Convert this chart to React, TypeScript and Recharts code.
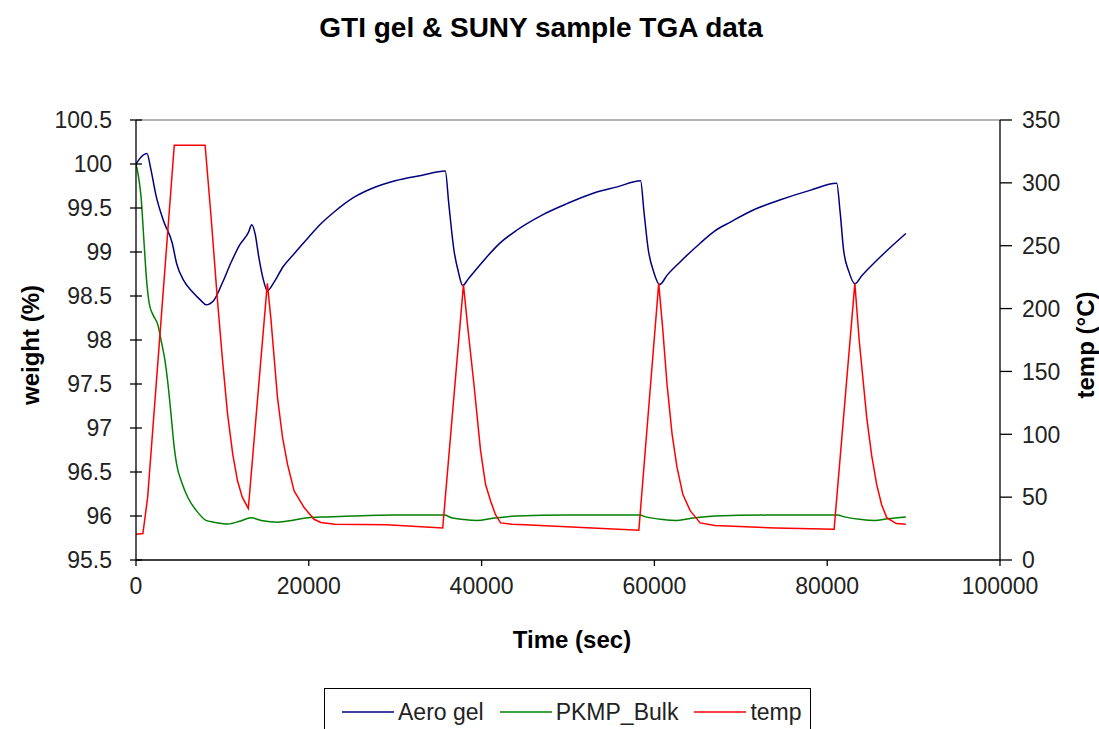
import React from 'react';
import { LineChart, Line, XAxis, YAxis, ReferenceLine } from 'recharts';

const FONT = '"Liberation Sans", Arial, Helvetica, sans-serif';

const titleText = 'GTI gel & SUNY sample TGA data';
const xTitle = 'Time (sec)';
const leftTitle = 'weight (%)';
const rightTitle = 'temp (°C)';

const seriesNames = ['Aero gel', 'PKMP_Bulk', 'temp'];
const seriesColors = ['#000080', '#008000', '#FF0000'];

const weightTicks = [95.5, 96, 96.5, 97, 97.5, 98, 98.5, 99, 99.5, 100, 100.5];
const tempTicks = [0, 50, 100, 150, 200, 250, 300, 350];
const timeTicks = [0, 20000, 40000, 60000, 80000, 100000];

const aeroTime = [
  0, 600, 1270, 1700, 2300, 3200, 4200, 4700, 5500, 6500, 7500, 8100, 9000, 10000, 11000, 12000, 13000, 13400,
  13800, 14200, 14700, 15200, 16000, 17000, 18300, 20000, 21400, 23000, 25200, 27500, 30000, 33000, 35800,
  36200, 36800, 37300, 37800, 38500, 40300, 42000, 44100, 47000, 49900, 53000, 55700, 58400, 58800, 59300,
  59900, 60600, 61500, 63000, 65300, 67000, 68800, 71500, 74500, 78000, 81100, 81500, 81900, 82500, 83200,
  84000, 86100, 89100,
];
const aeroWeight = [
  100.0, 100.08, 100.12, 99.95, 99.65, 99.35, 99.1, 98.87, 98.68, 98.55, 98.45, 98.4, 98.45, 98.65, 98.88, 99.08,
  99.22, 99.31, 99.2, 98.95, 98.7, 98.56, 98.66, 98.83, 98.98, 99.17, 99.32, 99.46, 99.62, 99.73, 99.81, 99.87,
  99.92, 99.55, 99.02, 98.78, 98.62, 98.7, 98.91, 99.09, 99.25, 99.42, 99.55, 99.67, 99.74, 99.81, 99.45, 99.02,
  98.78, 98.63, 98.74, 98.89, 99.1, 99.24, 99.34, 99.48, 99.59, 99.7, 99.78, 99.45, 99.02, 98.78, 98.64, 98.73,
  98.94, 99.21,
];

const bulkTime = [
  0, 300, 580, 960, 1250, 1540, 2000, 2500, 3000, 3300, 3700, 4050, 4400, 4700, 5300, 6000, 7000, 8100, 9000,
  10600, 12000, 13300, 14500, 16400, 18000, 19900, 22000, 25000, 30000, 35700, 36500, 38000, 39500, 41000,
  44000, 50000, 58300, 59000, 61000, 62500, 64000, 67000, 73000, 81200, 82000, 84000, 85500, 87000, 89100,
];
const bulkWeight = [
  100.0, 99.85, 99.63, 99.06, 98.65, 98.41, 98.28, 98.18, 97.95, 97.8, 97.5, 97.16, 96.8, 96.59, 96.38, 96.21,
  96.06, 95.95, 95.93, 95.91, 95.94, 95.98, 95.95, 95.93, 95.95, 95.98, 95.99, 96.0, 96.01, 96.01, 95.98, 95.96,
  95.95, 95.97, 96.0, 96.01, 96.01, 95.99, 95.96, 95.95, 95.97, 96.0, 96.01, 96.01, 95.99, 95.96, 95.95, 95.97,
  95.99,
];

const tempTime = [
  0, 800, 1350, 4430, 8000, 8700, 9400, 10000, 10600, 11200, 11750, 12300, 13000, 15200, 15600, 16380, 16960,
  17540, 18300, 19460, 20610, 21400, 23000, 29000, 33000, 35500, 37900, 38400, 39110, 39880, 40460, 41040, 41610,
  42200, 43500, 45000, 58200, 60500, 60950, 61460, 62050, 62620, 63300, 64160, 65300, 67000, 74000, 80800, 83200,
  83700, 84580, 85150, 85730, 86300, 86890, 88000, 89100,
];
const tempValues = [
  20.5, 21, 50, 330, 330, 272, 209, 160, 116, 84, 63, 50, 41, 220, 193, 129, 97.5, 76, 55, 41.7, 32.4, 29.8, 28.5,
  28, 26.5, 25.5, 219, 185, 140, 87, 60, 47, 36, 29.5, 28.5, 28, 23.7, 220, 185, 140, 100, 73.6, 52, 39, 29.5,
  27.5, 25.5, 24.5, 220, 175, 113, 83, 60, 44, 33.7, 29, 28.5,
];

const aeroData = aeroTime.map((t, i) => ({ t, v: aeroWeight[i] }));
const bulkData = bulkTime.map((t, i) => ({ t, v: bulkWeight[i] }));
const tempData = tempTime.map((t, i) => ({ t, v: tempValues[i] }));

const TICK_FS = 23;
const TICK_COLOR = '#222';

function LeftTick(props: any) {
  const { x, y, payload } = props;
  return (
    <g>
      <line x1={x + 18} x2={x + 30} y1={y} y2={y} stroke="#000" strokeWidth={1.3} />
      <text x={x} y={y} dy="0.36em" textAnchor="end" fontSize={TICK_FS} fill={TICK_COLOR} fontFamily={FONT}>
        {payload.value}
      </text>
    </g>
  );
}

function RightTick(props: any) {
  const { x, y, payload } = props;
  return (
    <g>
      <line x1={x - 22} x2={x - 10} y1={y} y2={y} stroke="#000" strokeWidth={1.3} />
      <text x={x} y={y} dy="0.36em" textAnchor="start" fontSize={TICK_FS} fill={TICK_COLOR} fontFamily={FONT}>
        {payload.value}
      </text>
    </g>
  );
}

function VertTitle(props: any, text: string, dxFromAxisBox: number) {
  const vb = props.viewBox || {};
  const cx = vb.x + dxFromAxisBox;
  const cy = vb.y + vb.height / 2 + 5;
  return (
    <text
      x={cx}
      y={cy}
      transform={`rotate(-90, ${cx}, ${cy})`}
      textAnchor="middle"
      dominantBaseline="central"
      fontSize={24}
      fontWeight="bold"
      fill="#000"
      fontFamily={FONT}
    >
      {text}
    </text>
  );
}

function XTitle(props: any) {
  const vb = props.viewBox || {};
  const cx = vb.x + vb.width / 2 + 4;
  return (
    <text x={cx} y={vb.y + 88} textAnchor="middle" fontSize={24} fontWeight="bold" fill="#000" fontFamily={FONT}>
      {xTitle}
    </text>
  );
}

export default function App() {
  return (
    <div
      style={{
        position: 'absolute',
        left: 0,
        top: 0,
        width: 1099,
        height: 729,
        overflow: 'hidden',
        background: '#fff',
        fontFamily: FONT,
      }}
    >
      <div
        style={{
          position: 'absolute',
          left: 0,
          top: 14,
          width: 1082,
          textAlign: 'center',
          fontSize: 28,
          lineHeight: '28px',
          fontWeight: 'bold',
          color: '#000',
          whiteSpace: 'nowrap',
        }}
      >
        {titleText}
      </div>
      <div style={{ position: 'absolute', left: 0, top: 0 }}>
        <LineChart width={1099} height={729} margin={{ top: 120, right: 0, bottom: 0, left: 0 }}>
          <XAxis
            type="number"
            dataKey="t"
            domain={[0, 100000]}
            ticks={timeTicks}
            allowDataOverflow
            height={169}
            tickSize={6}
            tickMargin={12}
            axisLine={{ stroke: '#000', strokeWidth: 1.3 }}
            tickLine={{ stroke: '#000', strokeWidth: 1.3 }}
            tick={{ fontSize: TICK_FS, fill: TICK_COLOR, fontFamily: FONT }}
            label={{ content: (p: any) => XTitle(p) }}
          />
          <YAxis
            yAxisId="w"
            orientation="left"
            width={136}
            domain={[95.5, 100.5]}
            ticks={weightTicks}
            allowDataOverflow
            tickSize={6}
            tickMargin={18}
            tickLine={false}
            axisLine={{ stroke: '#000', strokeWidth: 1.3 }}
            tick={<LeftTick />}
            label={{ content: (p: any) => VertTitle(p, leftTitle, 30) }}
          />
          <YAxis
            yAxisId="temp"
            orientation="right"
            width={99}
            domain={[0, 350]}
            ticks={tempTicks}
            allowDataOverflow
            tickSize={6}
            tickMargin={16}
            tickLine={false}
            axisLine={{ stroke: '#000', strokeWidth: 1.3 }}
            tick={<RightTick />}
            label={{ content: (p: any) => VertTitle(p, rightTitle, 85) }}
          />
          <ReferenceLine yAxisId="w" y={100.5} stroke="#9a9a9a" strokeWidth={1.3} />
          <Line
            yAxisId="w"
            data={aeroData}
            dataKey="v"
            name={seriesNames[0]}
            type="monotone"
            stroke={seriesColors[0]}
            strokeWidth={1.5}
            dot={false}
            isAnimationActive={false}
          />
          <Line
            yAxisId="w"
            data={bulkData}
            dataKey="v"
            name={seriesNames[1]}
            type="monotone"
            stroke={seriesColors[1]}
            strokeWidth={1.5}
            dot={false}
            isAnimationActive={false}
          />
          <Line
            yAxisId="temp"
            data={tempData}
            dataKey="v"
            name={seriesNames[2]}
            type="linear"
            stroke={seriesColors[2]}
            strokeWidth={1.5}
            dot={false}
            isAnimationActive={false}
          />
        </LineChart>
      </div>
      <div
        style={{
          position: 'absolute',
          left: 324,
          top: 688,
          width: 487,
          height: 60,
          border: '1.3px solid #000',
          boxSizing: 'border-box',
          display: 'flex',
          alignItems: 'flex-start',
          paddingLeft: 17,
          paddingTop: 10,
          fontSize: 23,
          lineHeight: '26px',
          color: '#222',
          whiteSpace: 'nowrap',
        }}
      >
        {seriesNames.map((n, i) => (
          <div key={n} style={{ display: 'flex', alignItems: 'center', marginRight: 16, flexShrink: 0 }}>
            <svg width={52} height={26} style={{ marginRight: 4, flexShrink: 0 }}>
              <line x1={0} x2={52} y1={13} y2={13} stroke={seriesColors[i]} strokeWidth={1.5} />
            </svg>
            <span>{n}</span>
          </div>
        ))}
      </div>
    </div>
  );
}
